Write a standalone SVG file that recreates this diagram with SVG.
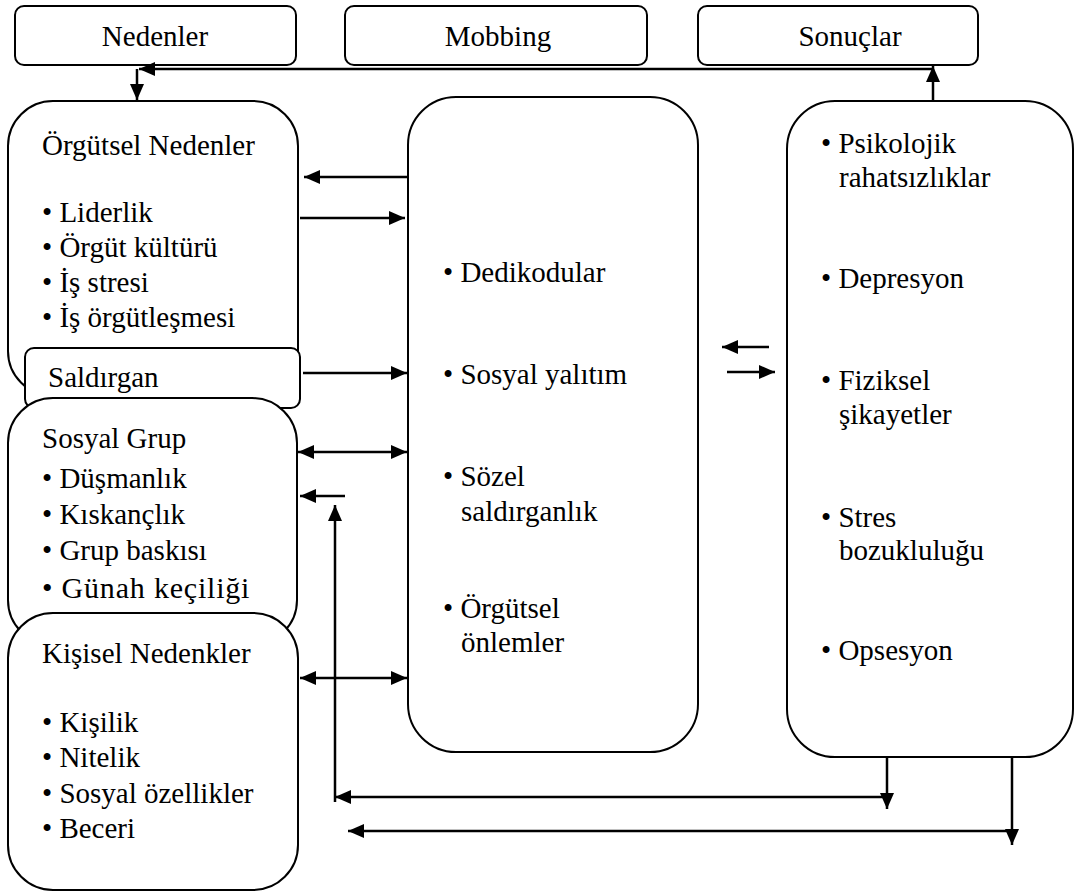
<svg xmlns="http://www.w3.org/2000/svg" width="1075" height="895" viewBox="0 0 1075 895" font-family="Liberation Serif" font-size="29">
<defs>
<marker id="ah" markerUnits="userSpaceOnUse" markerWidth="18" markerHeight="14" refX="16" refY="7" orient="auto-start-reverse">
<path d="M0,0 L16,7 L0,14 Z" fill="#000"/>
</marker>
</defs>
<rect width="1075" height="895" fill="#fff"/>
<g id="nodes" fill="#fff" stroke="#000" stroke-width="2">
<g id="nedenler"><rect x="15" y="6" width="281" height="59" rx="9"/><text x="155" y="46" text-anchor="middle" fill="#000" stroke="none" font-family="Liberation Serif">Nedenler</text></g>
<g id="mobbing"><rect x="345" y="6" width="302" height="59" rx="9"/><text x="498" y="46" text-anchor="middle" fill="#000" stroke="none" font-family="Liberation Serif">Mobbing</text></g>
<g id="sonuclar"><rect x="698" y="6" width="280" height="59" rx="9"/><text x="850" y="46" text-anchor="middle" fill="#000" stroke="none" font-family="Liberation Serif">Sonuçlar</text></g>
<g id="orgutsel"><rect x="8" y="101" width="290" height="295" rx="45"/>
<g fill="#000" stroke="none" font-family="Liberation Serif">
<text x="42" y="155">Örgütsel Nedenler</text>
<text x="42" y="222">• Liderlik</text>
<text x="42" y="257">• Örgüt kültürü</text>
<text x="42" y="292">• İş stresi</text>
<text x="42" y="327">• İş örgütleşmesi</text></g></g>
<g id="saldirgan"><rect x="25" y="348" width="275" height="60" rx="9"/><text x="48" y="387" fill="#000" stroke="none" font-family="Liberation Serif">Saldırgan</text></g>
<g id="sosyal"><rect x="8" y="398" width="289" height="247" rx="45"/>
<g fill="#000" stroke="none" font-family="Liberation Serif">
<text x="42" y="448">Sosyal Grup</text>
<text x="42" y="488">• Düşmanlık</text>
<text x="42" y="524">• Kıskançlık</text>
<text x="42" y="560">• Grup baskısı</text>
<text x="42" y="598" font-size="30" letter-spacing="0.8">• Günah keçiliği</text></g></g>
<g id="kisisel"><rect x="8" y="613" width="290" height="277" rx="45"/>
<g fill="#000" stroke="none" font-family="Liberation Serif">
<text x="42" y="663">Kişisel Nedenkler</text>
<text x="42" y="732">• Kişilik</text>
<text x="42" y="767">• Nitelik</text>
<text x="42" y="803">• Sosyal özellikler</text>
<text x="42" y="838">• Beceri</text></g></g>
<g id="mobbing-panel"><rect x="408" y="97" width="290" height="655" rx="48"/>
<g fill="#000" stroke="none" font-family="Liberation Serif">
<text x="443" y="282">• Dedikodular</text>
<text x="443" y="384">• Sosyal yalıtım</text>
<text x="443" y="486">• Sözel</text>
<text x="461" y="521">saldırganlık</text>
<text x="443" y="618">• Örgütsel</text>
<text x="461" y="652">önlemler</text></g></g>
<g id="sonuclar-panel"><rect x="787" y="101" width="286" height="656" rx="48"/>
<g fill="#000" stroke="none" font-family="Liberation Serif">
<text x="821" y="153">• Psikolojik</text>
<text x="839" y="187">rahatsızlıklar</text>
<text x="821" y="288">• Depresyon</text>
<text x="821" y="390">• Fiziksel</text>
<text x="839" y="424">şikayetler</text>
<text x="821" y="527">• Stres</text>
<text x="839" y="560">bozukluluğu</text>
<text x="821" y="660">• Opsesyon</text></g></g>
</g>
<g id="connectors" stroke="#000" stroke-width="2.5" fill="none">
<path d="M933,101 V66" marker-end="url(#ah)"/>
<path d="M933,69 H139" marker-end="url(#ah)"/>
<path d="M137,69 V100" marker-end="url(#ah)"/>
<path d="M408,177 H304" marker-end="url(#ah)"/>
<path d="M300,218 H405" marker-end="url(#ah)"/>
<path d="M303,373 H407" marker-end="url(#ah)"/>
<path d="M298,452 H407" marker-start="url(#ah)" marker-end="url(#ah)"/>
<path d="M345,496 H300" marker-end="url(#ah)"/>
<path d="M335,802 V505" marker-end="url(#ah)"/>
<path d="M300,678 H407" marker-start="url(#ah)" marker-end="url(#ah)"/>
<path d="M769,347 H722" marker-end="url(#ah)"/>
<path d="M727,372 H775" marker-end="url(#ah)"/>
<path d="M887,757 V809" marker-end="url(#ah)"/>
<path d="M887,797 H335" marker-end="url(#ah)"/>
<path d="M1012,757 V845" marker-end="url(#ah)"/>
<path d="M1012,831 H348" marker-end="url(#ah)"/>
</g>
</svg>
